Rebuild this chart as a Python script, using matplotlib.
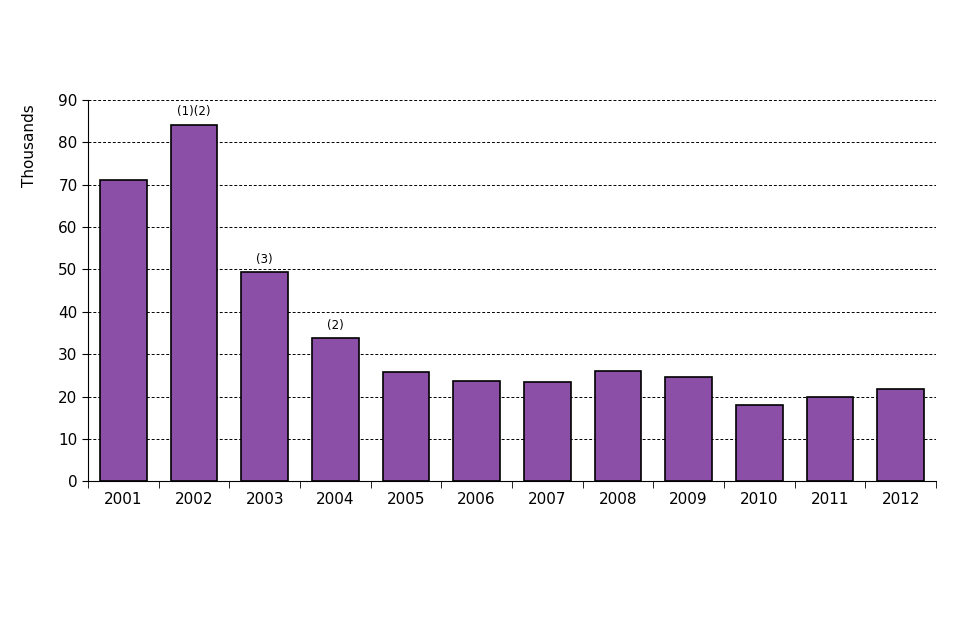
import matplotlib
matplotlib.use("Agg")
import matplotlib.pyplot as plt
import numpy as np

years = ["2001","2002","2003","2004","2005","2006","2007","2008","2009","2010","2011","2012"]
values = [71.0, 84.1, 49.4, 33.8, 25.7, 23.6, 23.4, 26.0, 24.6, 18.0, 19.8, 21.7]
notes = {"2002": "(1)(2)", "2003": "(3)", "2004": "(2)"}
yticks = [0,10,20,30,40,50,60,70,80,90]

fig = plt.figure(figsize=(9.6,6.4), dpi=100)
ax = fig.add_axes([0.0917, 0.248, 0.8833, 0.596])
x = np.arange(len(years))
ax.set_axisbelow(True)
ax.yaxis.grid(True, linestyle=(0,(3,2)), color="black", linewidth=0.7)
ax.bar(x, values, width=0.66, color="#8c4fa8", edgecolor="black", linewidth=1.2, zorder=3)
for i, y in enumerate(years):
    if y in notes:
        ax.text(i, values[i] + 1.5, notes[y], ha="center", va="bottom", fontsize=8.5)
ax.set_xlim(-0.5, len(years) - 0.5)
ax.set_ylim(0, 90)
ax.set_yticks(yticks)
ax.set_xticks(x)
ax.set_xticklabels(years)
ax.set_xticks(np.arange(-0.5, len(years)), minor=True)
ax.tick_params(axis="x", which="major", length=0, pad=8, labelsize=11)
ax.tick_params(axis="x", which="minor", length=5, direction="out")
ax.tick_params(axis="y", length=4, direction="out", labelsize=11)
for s in ["top", "right"]:
    ax.spines[s].set_visible(False)
ax.set_ylabel("Thousands", fontsize=11, labelpad=12)
ax.yaxis.set_label_coords(-0.06, 0.88)
fig.savefig("out.png", dpi=100)
